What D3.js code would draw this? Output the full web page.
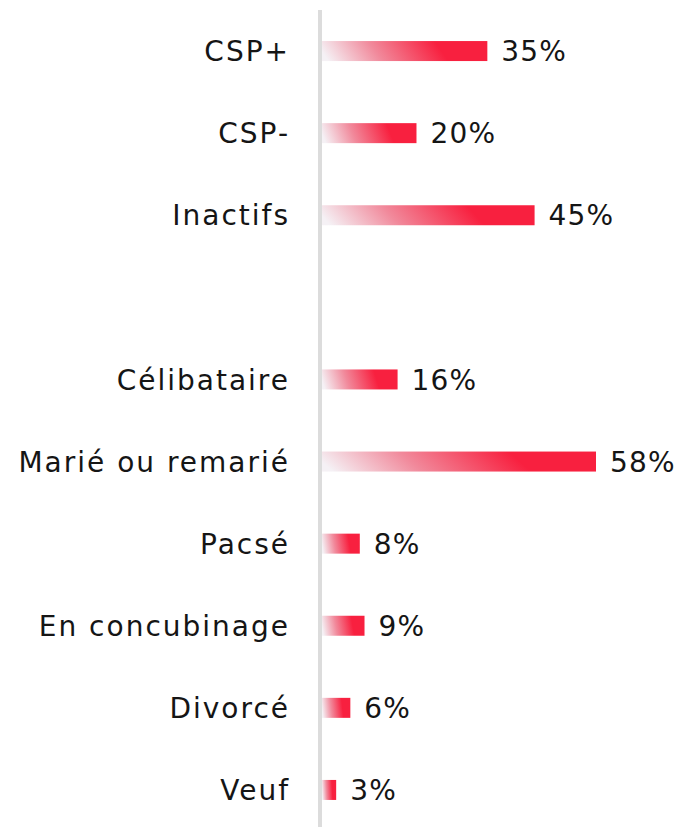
<!DOCTYPE html>
<html>
<head>
<meta charset="utf-8">
<script src="https://cdn.jsdelivr.net/npm/d3@7"></script>
<style>
  html, body { margin: 0; padding: 0; background: #fff; }
  svg { display: block; }
  text { font-family: "DejaVu Sans", sans-serif; fill: #151515; }
</style>
</head>
<body>
<svg id="chart" width="684" height="827"></svg>
<script>
// Data
let categories = ["CSP+", "CSP-", "Inactifs", " ", "Célibataire", "Marié ou remarié", "Pacsé", "En concubinage", "Divorcé", "Veuf"]
let values = [35, 20, 45, null, 16, 58, 8, 9, 6, 3]

let rows = categories.map((c, i) => ({cat: c, val: values[i]}))

// Layout
let width = 684, height = 827
let svg = d3.select("#chart")

let x = d3.scaleLinear().domain([0, 58]).range([322, 596])
let y = d3.scaleBand().domain(categories).range([10, 831]).paddingInner(0.756).paddingOuter(0.378)

// gradient: pale on the left, red toward the right
let defs = svg.append("defs")
let grad = defs.append("linearGradient")
  .attr("id", "barGrad")
  .attr("x1", 0).attr("y1", 0.53)
  .attr("x2", 0.72).attr("y2", 0.47)
grad.append("stop").attr("offset", "0%").attr("stop-color", "#f5f1f5")
grad.append("stop").attr("offset", "45%").attr("stop-color", "#f1899b")
grad.append("stop").attr("offset", "100%").attr("stop-color", "#f8203f")

// axis line
svg.append("line")
  .attr("x1", 320).attr("x2", 320)
  .attr("y1", 10).attr("y2", height)
  .attr("stroke", "#dcdcdc")
  .attr("stroke-width", 4)

let data = rows.filter(d => d.val != null)

svg.selectAll("rect.bar")
  .data(data)
  .join("rect")
  .attr("class", "bar")
  .attr("x", x(0))
  .attr("y", d => y(d.cat) + y.bandwidth() / 2 - 10)
  .attr("width", d => x(d.val) - x(0))
  .attr("height", 20)
  .attr("fill", "url(#barGrad)")

// category labels
svg.selectAll("text.cat")
  .data(data)
  .join("text")
  .attr("class", "cat")
  .attr("x", 290)
  .attr("y", d => y(d.cat) + y.bandwidth() / 2)
  .attr("dy", "0.36em")
  .attr("text-anchor", "end")
  .attr("font-size", 28)
  .attr("letter-spacing", 2)
  .text(d => d.cat)

// value labels
svg.selectAll("text.val")
  .data(data)
  .join("text")
  .attr("class", "val")
  .attr("x", d => x(d.val) + 14)
  .attr("y", d => y(d.cat) + y.bandwidth() / 2)
  .attr("dy", "0.36em")
  .attr("font-size", 28)
  .attr("letter-spacing", 1.2)
  .text(d => d.val + "%")
</script>
</body>
</html>
